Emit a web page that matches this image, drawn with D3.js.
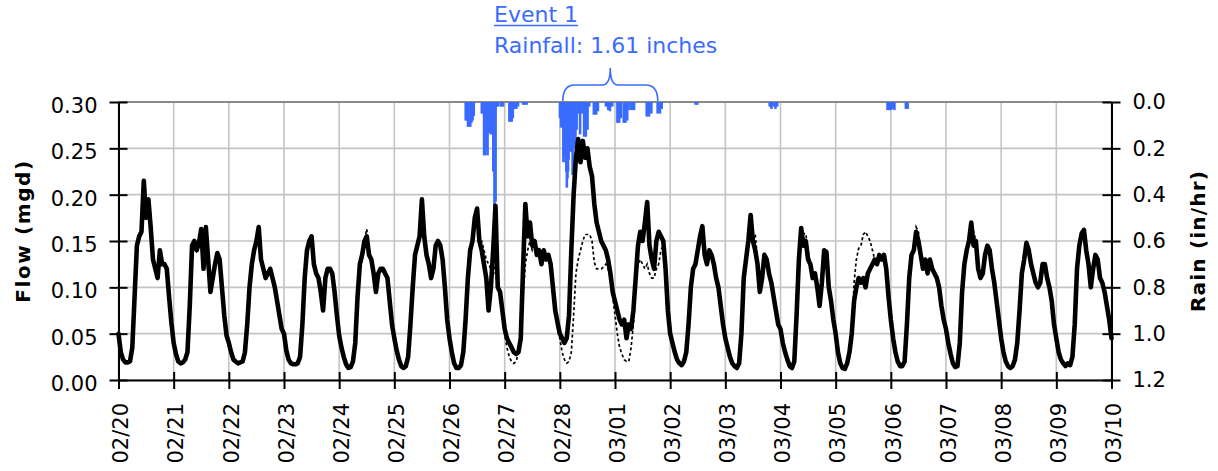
<!DOCTYPE html>
<html>
<head>
<meta charset="utf-8">
<script src="https://cdn.jsdelivr.net/npm/d3@7"></script>
<style>
  body { margin: 0; background: #fff; }
  text { font-family: "DejaVu Sans", Verdana, sans-serif; }
</style>
</head>
<body>
<svg id="chart" width="1218" height="471"></svg>
<script>
// ---- Data -------------------------------------------------------------
// Hourly flow (mgd) from 02/20 00:00 to 03/10 00:00, one row per day.
const observedFlow = [
  0.05,0.03,0.022,0.019,0.019,0.02,0.035,0.09,0.145,0.155,0.16,0.215,0.175,0.195,0.165,0.13,0.12,0.11,0.14,0.125,0.125,0.12,0.09,0.062,
  0.04,0.028,0.02,0.018,0.019,0.022,0.03,0.08,0.145,0.15,0.14,0.148,0.163,0.12,0.165,0.13,0.095,0.11,0.125,0.137,0.13,0.1,0.07,0.048,
  0.04,0.03,0.022,0.02,0.018,0.019,0.02,0.03,0.06,0.1,0.125,0.14,0.15,0.165,0.13,0.12,0.11,0.115,0.12,0.11,0.1,0.085,0.07,0.055,
  0.05,0.032,0.022,0.018,0.017,0.017,0.018,0.025,0.06,0.11,0.14,0.15,0.155,0.125,0.115,0.11,0.095,0.075,0.11,0.12,0.12,0.115,0.095,0.07,
  0.048,0.035,0.025,0.017,0.013,0.014,0.02,0.04,0.09,0.125,0.135,0.15,0.155,0.135,0.13,0.115,0.095,0.115,0.12,0.12,0.115,0.11,0.085,0.06,
  0.045,0.032,0.022,0.015,0.013,0.015,0.025,0.06,0.1,0.135,0.145,0.155,0.195,0.155,0.135,0.125,0.11,0.12,0.145,0.15,0.145,0.13,0.1,0.065,
  0.045,0.03,0.018,0.013,0.013,0.016,0.03,0.065,0.11,0.14,0.15,0.175,0.185,0.15,0.14,0.125,0.11,0.075,0.1,0.14,0.188,0.1,0.095,0.075,
  0.055,0.045,0.04,0.035,0.03,0.028,0.03,0.045,0.12,0.19,0.155,0.17,0.145,0.15,0.135,0.14,0.125,0.14,0.13,0.135,0.125,0.1,0.075,0.062,
  0.05,0.045,0.04,0.045,0.07,0.14,0.2,0.24,0.26,0.235,0.258,0.24,0.25,0.23,0.22,0.19,0.17,0.16,0.15,0.145,0.14,0.13,0.115,0.095,
  0.085,0.075,0.065,0.06,0.065,0.045,0.06,0.055,0.075,0.11,0.145,0.16,0.15,0.17,0.192,0.145,0.13,0.12,0.15,0.16,0.155,0.15,0.12,0.075,
  0.05,0.04,0.03,0.022,0.018,0.016,0.02,0.03,0.06,0.1,0.12,0.125,0.14,0.155,0.166,0.135,0.125,0.14,0.135,0.125,0.11,0.1,0.08,0.06,
  0.045,0.035,0.025,0.018,0.015,0.013,0.018,0.05,0.11,0.13,0.15,0.178,0.15,0.14,0.125,0.095,0.11,0.135,0.13,0.115,0.105,0.09,0.075,0.06,
  0.055,0.04,0.03,0.022,0.015,0.013,0.02,0.07,0.13,0.164,0.145,0.15,0.13,0.125,0.11,0.115,0.1,0.08,0.105,0.14,0.138,0.1,0.085,0.065,
  0.05,0.03,0.018,0.013,0.012,0.018,0.03,0.05,0.085,0.1,0.11,0.105,0.11,0.1,0.115,0.12,0.125,0.13,0.125,0.135,0.13,0.135,0.12,0.09,
  0.065,0.045,0.03,0.02,0.015,0.015,0.02,0.06,0.11,0.135,0.14,0.16,0.15,0.135,0.12,0.13,0.115,0.13,0.12,0.115,0.11,0.1,0.08,0.065,
  0.055,0.04,0.028,0.018,0.014,0.015,0.04,0.095,0.125,0.14,0.15,0.17,0.145,0.15,0.12,0.11,0.115,0.135,0.145,0.14,0.12,0.105,0.085,0.065,
  0.045,0.03,0.02,0.015,0.013,0.015,0.022,0.04,0.075,0.115,0.13,0.148,0.14,0.125,0.115,0.105,0.1,0.105,0.125,0.125,0.11,0.1,0.085,0.06,
  0.045,0.03,0.022,0.018,0.015,0.018,0.016,0.025,0.06,0.12,0.145,0.158,0.162,0.14,0.125,0.1,0.12,0.135,0.13,0.11,0.105,0.095,0.08,0.065,
  0.045
];

// Hourly dry-weather flow (mgd), same period.
const dryWeatherFlow = [
  0.05,0.03,0.022,0.019,0.019,0.02,0.035,0.09,0.145,0.155,0.16,0.215,0.175,0.195,0.165,0.13,0.12,0.11,0.14,0.125,0.125,0.12,0.09,0.062,
  0.04,0.028,0.02,0.018,0.019,0.022,0.03,0.08,0.145,0.15,0.14,0.148,0.163,0.12,0.165,0.13,0.095,0.11,0.125,0.137,0.13,0.1,0.07,0.048,
  0.04,0.03,0.022,0.02,0.018,0.019,0.02,0.03,0.06,0.1,0.125,0.14,0.15,0.165,0.13,0.12,0.11,0.115,0.12,0.11,0.1,0.085,0.07,0.055,
  0.05,0.032,0.022,0.018,0.017,0.017,0.018,0.025,0.06,0.11,0.14,0.15,0.155,0.125,0.115,0.11,0.095,0.075,0.11,0.12,0.12,0.115,0.095,0.07,
  0.048,0.035,0.025,0.017,0.013,0.014,0.02,0.04,0.09,0.125,0.135,0.15,0.163,0.14,0.13,0.115,0.095,0.115,0.12,0.12,0.115,0.11,0.085,0.06,
  0.045,0.032,0.022,0.015,0.013,0.015,0.025,0.06,0.1,0.135,0.145,0.155,0.195,0.155,0.135,0.125,0.11,0.12,0.145,0.15,0.145,0.13,0.1,0.065,
  0.045,0.03,0.018,0.013,0.013,0.016,0.03,0.065,0.11,0.14,0.15,0.175,0.18,0.15,0.15,0.14,0.13,0.125,0.12,0.125,0.115,0.1,0.09,0.07,
  0.05,0.035,0.025,0.02,0.018,0.02,0.03,0.045,0.09,0.125,0.14,0.15,0.14,0.145,0.135,0.14,0.125,0.135,0.13,0.13,0.12,0.1,0.075,0.055,
  0.045,0.03,0.022,0.018,0.02,0.03,0.07,0.115,0.13,0.14,0.15,0.157,0.157,0.157,0.15,0.127,0.12,0.12,0.12,0.122,0.125,0.12,0.11,0.09,
  0.07,0.05,0.035,0.028,0.022,0.02,0.02,0.035,0.06,0.1,0.125,0.13,0.125,0.12,0.125,0.115,0.11,0.11,0.12,0.125,0.14,0.145,0.12,0.075,
  0.05,0.04,0.03,0.022,0.018,0.016,0.02,0.03,0.06,0.1,0.12,0.125,0.14,0.155,0.166,0.135,0.125,0.14,0.135,0.125,0.11,0.1,0.08,0.06,
  0.045,0.035,0.025,0.018,0.015,0.013,0.018,0.05,0.11,0.13,0.15,0.178,0.155,0.157,0.13,0.095,0.11,0.135,0.13,0.115,0.105,0.09,0.075,0.06,
  0.055,0.04,0.03,0.022,0.015,0.013,0.02,0.07,0.13,0.164,0.158,0.158,0.14,0.125,0.11,0.115,0.1,0.08,0.105,0.14,0.138,0.1,0.085,0.065,
  0.05,0.03,0.018,0.013,0.012,0.018,0.03,0.05,0.105,0.13,0.142,0.145,0.157,0.16,0.155,0.15,0.14,0.13,0.125,0.135,0.13,0.135,0.12,0.09,
  0.065,0.045,0.03,0.02,0.015,0.015,0.02,0.06,0.11,0.135,0.14,0.165,0.16,0.135,0.12,0.13,0.115,0.13,0.12,0.115,0.11,0.1,0.08,0.065,
  0.055,0.04,0.028,0.018,0.014,0.015,0.04,0.095,0.125,0.14,0.15,0.17,0.16,0.15,0.12,0.11,0.115,0.135,0.145,0.14,0.12,0.105,0.085,0.065,
  0.045,0.03,0.02,0.015,0.013,0.015,0.022,0.04,0.075,0.115,0.13,0.148,0.14,0.125,0.115,0.105,0.1,0.105,0.125,0.125,0.11,0.1,0.085,0.06,
  0.045,0.03,0.022,0.018,0.015,0.018,0.016,0.025,0.06,0.12,0.145,0.158,0.162,0.14,0.125,0.1,0.12,0.135,0.13,0.11,0.105,0.095,0.08,0.065,
  0.045
];

// 15-minute rain readings: start time (hours after 02/20 00:00) and intensity (in/hr).
const rainHour = [
  150.75,151.25,151.75,152.25,152.75,153.25,153.75,154.25,
  157.75,158.25,158.75,159.25,159.75,160.25,160.75,161.25,161.75,162.25,162.75,163.25,163.75,164.25,164.75,
  166,167,169.75,170.25,170.75,171.25,172,172.75,173.5,175.75,176.5,177.25,
  191.75,192.25,192.75,193.25,193.5,193.75,194,194.25,194.5,194.75,195,195.25,195.5,195.75,196,196.25,196.5,
  197.25,197.75,198.5,199,199.75,200.5,201.5,202.25,203,203.75,204.5,206.5,207.5,208.25,
  211.75,212.75,213.5,214.5,216.75,217.5,218.25,219.5,220.25,221,222,223,224,229.5,230.5,231.5,234.25,235.25,236,
  250.75,251.5,
  283,283.75,284.5,285.5,286.25,
  334.25,335,335.75,336.5,337.25,342.25,343
];
const rainRate = [
  0.08,0.08,0.107,0.107,0.107,0.09,0.08,0.06,
  0.05,0.05,0.23,0.23,0.2,0.23,0.135,0.135,0.14,0.12,0.3,0.457,0.43,0.02,0.02,
  0.02,0.02,0.085,0.085,0.085,0.07,0.03,0.03,0.02,0.012,0.012,0.012,
  0.07,0.11,0.11,0.26,0.24,0.2,0.22,0.26,0.3,0.37,0.33,0.3,0.25,0.215,0.184,0.12,0.215,
  0.315,0.2,0.185,0.12,0.05,0.14,0.05,0.15,0.15,0.12,0.02,0.055,0.055,0.04,
  0.02,0.035,0.04,0.02,0.09,0.09,0.07,0.09,0.09,0.08,0.035,0.035,0.035,0.063,0.063,0.05,0.05,0.05,0.03,
  0.012,0.012,
  0.02,0.03,0.02,0.03,0.02,
  0.035,0.035,0.035,0.03,0.035,0.03,0.03
];

const dayLabels = ["02/20","02/21","02/22","02/23","02/24","02/25","02/26","02/27","02/28",
                   "03/01","03/02","03/03","03/04","03/05","03/06","03/07","03/08","03/09","03/10"];
const flowTicks = [0, 0.05, 0.10, 0.15, 0.20, 0.25, 0.30];
const rainTicks = [0, 0.2, 0.4, 0.6, 0.8, 1.0, 1.2];
const eventTitle = "Event 1";
const eventNote = "Rainfall: 1.61 inches";
// Bracketed rain event: hours after 02/20 00:00
const eventSpan = [193.3, 234.6];

// ---- Layout -----------------------------------------------------------
const HOUR = 3600 * 1000;
const t0 = Date.UTC(2011, 1, 20);
const atHour = h => new Date(t0 + h * HOUR);
const P = { left: 118.5, right: 1111.5, top: 102, bottom: 380 };
const BLUE = "#3a6bff";

const svg = d3.select("#chart");

const x = d3.scaleUtc()
  .domain([atHour(0), atHour(24 * (dayLabels.length - 1))])
  .range([P.left, P.right]);
const yFlow = d3.scaleLinear().domain([0, 0.30]).range([P.bottom, P.top]);
const yRain = d3.scaleLinear().domain([0, 1.2]).range([P.top, P.bottom]);
const dayDates = dayLabels.map((_, i) => atHour(24 * i));

// Gridlines
const grid = svg.append("g").attr("stroke", "#c4c4c4").attr("stroke-width", 1.6);
grid.selectAll("line.v").data(dayDates).join("line")
  .attr("x1", d => x(d)).attr("x2", d => x(d))
  .attr("y1", P.top).attr("y2", P.bottom);
grid.selectAll("line.h").data(flowTicks).join("line")
  .attr("x1", P.left).attr("x2", P.right)
  .attr("y1", d => yFlow(d)).attr("y2", d => yFlow(d));

// Top frame line
svg.append("line")
  .attr("x1", P.left).attr("x2", P.right)
  .attr("y1", P.top).attr("y2", P.top)
  .attr("stroke", "#8a8a8a").attr("stroke-width", 2);

// Rain bars hanging from the top of the plot
const quarter = x(atHour(0.25)) - x(atHour(0));
svg.append("g").selectAll("rect")
  .data(rainHour.map((h, i) => ({ t: atHour(h), v: rainRate[i] })))
  .join("rect")
  .attr("x", d => x(d.t) - 0.6)
  .attr("y", yRain(0))
  .attr("width", Math.max(quarter, 2.6))
  .attr("height", d => yRain(d.v) - yRain(0))
  .attr("fill", BLUE);

// Flow lines
const line = d3.line()
  .x((d, i) => x(atHour(i)))
  .y(d => yFlow(d));

svg.append("path")
  .datum(dryWeatherFlow)
  .attr("d", line)
  .attr("fill", "none")
  .attr("stroke", "#000")
  .attr("stroke-width", 1.7)
  .attr("stroke-dasharray", "3,2.5");

svg.append("path")
  .datum(observedFlow)
  .attr("d", line)
  .attr("fill", "none")
  .attr("stroke", "#000")
  .attr("stroke-width", 4.6)
  .attr("stroke-linejoin", "round")
  .attr("stroke-linecap", "round");

// Axes
function styleAxis(g) {
  g.select(".domain").attr("stroke", "#000").attr("stroke-width", 2);
  g.selectAll(".tick line").attr("stroke", "#000").attr("stroke-width", 2);
  g.selectAll(".tick text").attr("fill", "#000").style("font-size", "21px");
}

const leftAxis = svg.append("g")
  .attr("transform", `translate(${P.left},0)`)
  .call(d3.axisLeft(yFlow).tickValues(flowTicks).tickFormat(d3.format(".2f"))
    .tickSize(9).tickSizeOuter(0).tickPadding(12))
  .call(styleAxis);
leftAxis.selectAll(".tick line").attr("x1", 9);
leftAxis.selectAll(".tick text").attr("dy", "0.5em");

const rightAxis = svg.append("g")
  .attr("transform", `translate(${P.right},0)`)
  .call(d3.axisRight(yRain).tickValues(rainTicks).tickFormat(d3.format(".1f"))
    .tickSize(9).tickSizeOuter(0).tickPadding(12))
  .call(styleAxis);
rightAxis.selectAll(".tick line").attr("x1", -9);

const bottomAxis = svg.append("g")
  .attr("transform", `translate(0,${P.bottom})`)
  .call(d3.axisBottom(x).tickValues(dayDates).tickFormat((d, i) => dayLabels[i])
    .tickSize(9).tickSizeOuter(0))
  .call(styleAxis);
bottomAxis.selectAll(".tick line").attr("y1", -8);
bottomAxis.selectAll(".tick text")
  .attr("transform", "rotate(-90)")
  .attr("text-anchor", "end")
  .attr("x", -23).attr("y", 0).attr("dy", "0.44em");

// Axis titles
svg.append("text")
  .attr("transform", "translate(30,231) rotate(-90)")
  .attr("text-anchor", "middle")
  .style("font-size", "20px").style("font-weight", "bold").style("letter-spacing", "1.6px")
  .text("Flow (mgd)");
svg.append("text")
  .attr("transform", "translate(1205,241) rotate(-90)")
  .attr("text-anchor", "middle")
  .style("font-size", "20px").style("font-weight", "bold").style("letter-spacing", "1.2px")
  .text("Rain (in/hr)");

// Event annotation
const title = svg.append("text")
  .attr("x", 494).attr("y", 22)
  .attr("fill", BLUE).style("font-size", "22px")
  .text(eventTitle);
const tw = title.node().getComputedTextLength();
svg.append("line")
  .attr("x1", 494).attr("x2", 494 + tw)
  .attr("y1", 25.5).attr("y2", 25.5)
  .attr("stroke", BLUE).attr("stroke-width", 1.6);
svg.append("text")
  .attr("x", 494).attr("y", 53)
  .attr("fill", BLUE).style("font-size", "22px")
  .text(eventNote);

// Curly brace over the event
const bx0 = x(atHour(eventSpan[0])), bx1 = x(atHour(eventSpan[1]));
const bm = (bx0 + bx1) / 2;
const by = 85, bt = 68, bb = P.top - 1;
svg.append("path")
  .attr("d", `M${bx0},${bb} Q${bx0},${by} ${bx0 + 12},${by} L${bm - 8},${by} Q${bm},${by} ${bm},${bt}
              Q${bm},${by} ${bm + 8},${by} L${bx1 - 12},${by} Q${bx1},${by} ${bx1},${bb}`)
  .attr("fill", "none").attr("stroke", BLUE).attr("stroke-width", 1.6);
</script>
</body>
</html>
